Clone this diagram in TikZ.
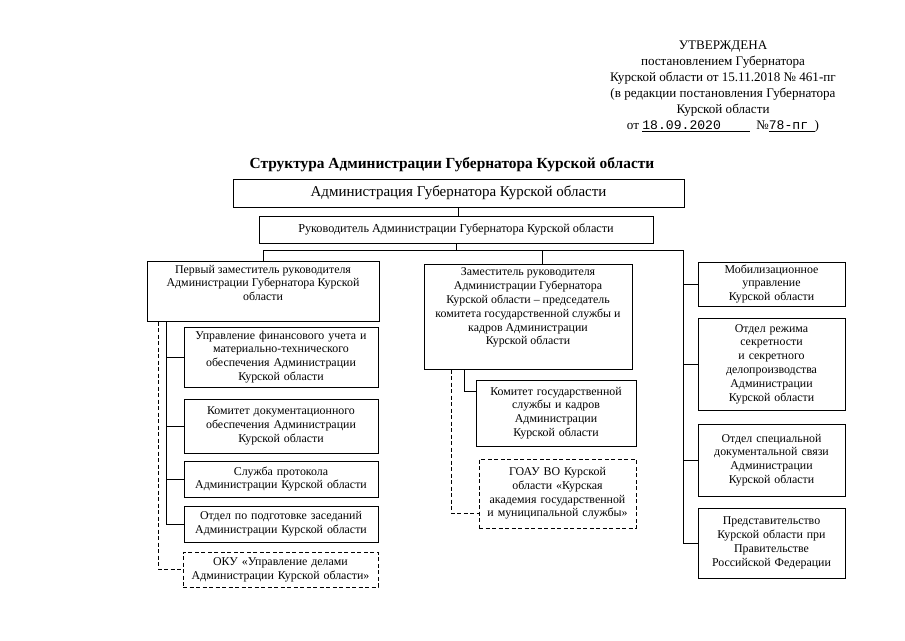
\documentclass[tikz,border=0pt]{standalone}
\usepackage{fontspec}
\setmainfont{Liberation Serif}
\newfontfamily\typefont{Liberation Mono}
\usetikzlibrary{calc, positioning}
\tikzset{
  every picture/.style={line width=0.8pt},
  unit/.style={draw, line width=1pt, align=center, inner xsep=3pt, inner ysep=2pt,
    font=\fontsize{11.9}{13.8}\selectfont},
  cell/.style n args={2}{unit, text width=#1, minimum height=#2},
  dcell/.style n args={2}{cell={#1}{#2}, dash pattern=on 4pt off 2.5pt},
  link/.style={line width=0.8pt},
  dlink/.style={link, dash pattern=on 4pt off 2.5pt}
}
\newcommand{\topbox}[3]{\parbox[c][#2][t]{#1}{\centering\vspace{4pt}#3}}

\begin{document}
\begin{tikzpicture}[x=1pt, y=-1pt]
  \useasboundingbox (0,0) rectangle (905,640);

  % approval stamp
  \node[align=center, font=\fontsize{13.1}{16}\selectfont] (stamp) at (723,87)
    {УТВЕРЖДЕНА\\ постановлением Губернатора\\ Курской области от 15.11.2018 № 461-пг\\
     (в редакции постановления Губернатора\\ Курской области\\
     от \underline{\typefont 18.09.2020\hspace{2.2em}}\ \ №\underline{\typefont 78-пг\hspace{0.5em}})};

  \node[font=\bfseries\fontsize{15.4}{17}\selectfont] (title) at (452,165)
    {Структура Администрации Губернатора Курской области};

  \node[unit, minimum width=451pt, minimum height=28pt, font=\fontsize{15}{17}\selectfont] (adm) at (458.5,193)
    {Администрация Губернатора Курской области};
  \node[unit, minimum width=394pt, minimum height=27pt, font=\fontsize{12.2}{14}\selectfont] (lead) at (456,229.5)
    {Руководитель Администрации Губернатора Курской области};

  % deputies
  \node[unit, inner sep=0pt] (first) at (263,291)
    {\topbox{232pt}{60pt}{Первый заместитель руководителя\\ Администрации Губернатора Курской\\ области}};
  \node[unit, inner sep=0pt] (deputy) at (528,316.5)
    {\topbox{208pt}{105pt}{Заместитель руководителя\\ Администрации Губернатора\\ Курской области – председатель\\
      комитета государственной службы и\\ кадров Администрации\\ Курской области}};

  % first deputy units
  \node[cell={188pt}{60pt}] (fin) at (281,357)
    {Управление финансового учета и\\ материально-технического\\ обеспечения Администрации\\ Курской области};
  \node[cell={188pt}{54pt}] (doc) at (281,426)
    {Комитет документационного\\ обеспечения Администрации\\ Курской области};
  \node[cell={188pt}{36pt}] (prot) at (281,479)
    {Служба протокола\\ Администрации Курской области};
  \node[cell={188pt}{36pt}] (meet) at (281,524)
    {Отдел по подготовке заседаний\\ Администрации Курской области};
  \node[dcell={189pt}{35pt}] (oku) at (280.5,569.5)
    {ОКУ «Управление делами\\ Администрации Курской области»};

  % deputy units
  \node[cell={154pt}{66pt}] (kom) at (556,413)
    {Комитет государственной\\ службы и кадров\\ Администрации\\ Курской области};
  \node[dcell={151pt}{69pt}] (acad) at (557.5,493.5)
    {ГОАУ ВО Курской\\ области «Курская\\ академия государственной\\ и муниципальной службы»};

  % right column
  \node[cell={141pt}{44pt}] (mob) at (771.5,284)
    {Мобилизационное\\ управление\\ Курской области};
  \node[cell={141pt}{92pt}] (secr) at (771.5,364)
    {Отдел режима\\ секретности\\ и секретного\\ делопроизводства\\ Администрации\\ Курской области};
  \node[cell={141pt}{72pt}] (spec) at (771.5,460)
    {Отдел специальной\\ документальной связи\\ Администрации\\ Курской области};
  \node[cell={141pt}{70pt}] (rep) at (771.5,543)
    {Представительство\\ Курской области при\\ Правительстве\\ Российской Федерации};

  % connectors
  \coordinate (rbus) at (683,250);
  \draw[link] (adm.south) -- (adm.south |- lead.north);
  \draw[link] (lead.south) -- (lead.south |- rbus);
  \draw[link] (first.north) |- (rbus) |- (rep.west);
  \coordinate (dtop) at ($(deputy.north)+(14,0)$);
  \draw[link] (dtop) -- (dtop |- rbus);
  \foreach \n in {mob, secr, spec}
    \draw[link] (rbus |- \n.west) -- (\n.west);

  \coordinate (ls) at ($(first.south west)+(20,0)$);
  \draw[link] (ls) |- (meet.west);
  \foreach \n in {fin, doc, prot}
    \draw[link] (ls |- \n.west) -- (\n.west);
  \coordinate (ld) at ($(first.south west)+(12,0)$);
  \draw[dlink] (ld) |- (oku.west);

  \coordinate (ds) at ($(deputy.south west)+(41,0)$);
  \draw[link] (ds) |- ($(kom.north west)+(0,12)$);
  \coordinate (dd) at ($(deputy.south west)+(28,0)$);
  \draw[dlink] (dd) |- ($(acad.south west)+(0,-15)$);
\end{tikzpicture}
\end{document}
